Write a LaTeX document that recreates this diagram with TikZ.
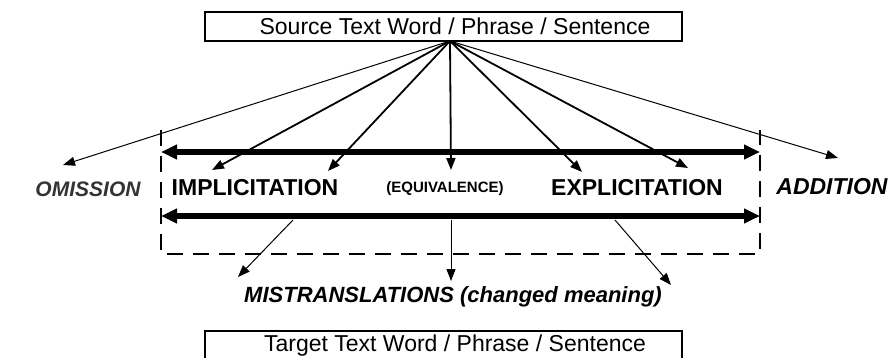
\documentclass[tikz,border=0pt]{standalone}
\usepackage{fontspec}
\setmainfont{Liberation Sans}
\usepackage{tikz}
\usetikzlibrary{arrows.meta,positioning,calc}

\begin{document}
\begin{tikzpicture}[
    x=0.5pt, y=-0.5pt,
    textbox/.style={rectangle, draw, line width=1pt, minimum width=238.5pt,
                minimum height=14.5pt, inner sep=0pt,
                font=\fontsize{11.5}{13}\selectfont},
    label/.style={font=\fontsize{11.5}{13}\selectfont\bfseries, inner sep=0pt},
    sidelabel/.style={font=\fontsize{11.5}{13}\selectfont\bfseries\itshape, inner sep=0pt},
    fan/.style={line width=0.9pt, -{Triangle[length=6pt,width=4.5pt]}},
    thinfan/.style={line width=0.5pt, -{Triangle[length=6pt,width=4.5pt]}},
    bigarrow/.style={line width=3pt, {Triangle[length=8pt,width=7pt]}-{Triangle[length=8pt,width=7pt]}},
    frame/.style={line width=1.3pt, dash pattern=on 8pt off 5pt},
]
\useasboundingbox (0,0) rectangle (889,358);
\clip (0,0) rectangle (889,358);

% Source and target boxes
\node[textbox] (src) at (443.5,26.5) {\hspace*{11.5pt}Source Text Word / Phrase / Sentence};
\node[textbox] (tgt) at (443.5,345.5) {\hspace*{11.5pt}Target Text Word / Phrase / Sentence};

% Labels
\node[sidelabel, font=\fontsize{10.5}{12}\selectfont\bfseries\itshape, color=black!80] (omit) at (88,189) {OMISSION};
\node[label] (impl) at (255,188) {IMPLICITATION};
\node[label, font=\fontsize{7.5}{9}\selectfont\bfseries] (equiv) at (445,189) {(EQUIVALENCE)};
\node[label] (expl) at (637,188) {EXPLICITATION};
\node[sidelabel] (add) at (832,187) {ADDITION};
\node[sidelabel, font=\fontsize{11}{13}\selectfont\bfseries\itshape] (mis) at (453,297) {MISTRANSLATIONS (changed meaning)};

% Dashed frame, open at the top
\coordinate (fl) at (161,130);
\coordinate (fr) at (760,130);
\coordinate (fbr) at (760,254);
\draw[frame] (fl) |- (fbr) -- (fr);

% Thick double arrows
\coordinate (upl) at (161,152);
\coordinate (upr) at (760,152);
\coordinate (lol) at (161,216);
\coordinate (lor) at (760,216);
\draw[bigarrow] (upl) -- (upr);
\draw[bigarrow] (lol) -- (lor);

% Fan from the source text
\coordinate (apex) at (450,41);
\coordinate (t1) at (63,165);
\coordinate (t2) at (212,170);
\coordinate (t3) at (328,171);
\coordinate (t4) at (451,170);
\coordinate (t5) at (582,172);
\coordinate (t6) at (688,168);
\coordinate (t7) at (838,158);
\draw[thinfan] (apex) -- (t1);
\foreach \t in {t2,t3,t4,t5,t6}
    \draw[fan] (apex) -- (\t);
\draw[thinfan] (apex) -- (t7);

% Mistranslation arrows
\coordinate (m1s) at (293,220);
\coordinate (m1) at (238,277);
\coordinate (m2s) at (451,220);
\coordinate (m2) at (451,281);
\coordinate (m3s) at (615,220);
\coordinate (m3) at (671,285);
\draw[thinfan] (m1s) -- (m1);
\draw[thinfan] (m2s) -- (m2);
\draw[thinfan] (m3s) -- (m3);

\end{tikzpicture}
\end{document}
